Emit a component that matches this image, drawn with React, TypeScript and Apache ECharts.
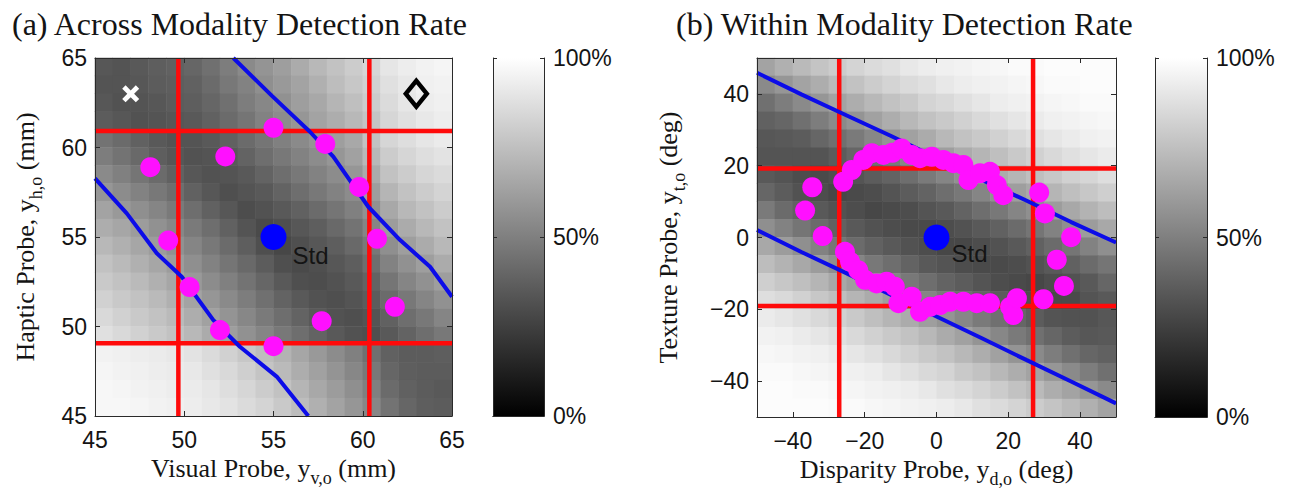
import React, { useEffect, useRef } from "react";
import * as echarts from "echarts";

const SANS = "'Liberation Sans', Arial, Helvetica, sans-serif";
const SERIF = "'Liberation Serif', 'Times New Roman', Times, serif";
const INK = "#141414";
const AXIS = "#2a2a2a";

// ---------- texts ----------
const titleA = "(a) Across Modality Detection Rate";
const titleB = "(b) Within Modality Detection Rate";
const stdLabel = "Std";

// ---------- ticks ----------
const aRange = [45, 65];
const bRange = [-50, 50];
const aTicks = [45, 50, 55, 60, 65];
const bTicks = [-40, -20, 0, 20, 40];
const colorbarRange = [0, 100];
const colorbarTop = [100];

// ---------- panel (a) heat map: cell centres (mm) and detection rate (%) rows, top (64.5) to bottom (45.5) ----------
const aCellX = [45.5, 46.5, 47.5, 48.5, 49.5, 50.5, 51.5, 52.5, 53.5, 54.5, 55.5, 56.5, 57.5, 58.5, 59.5, 60.5, 61.5, 62.5, 63.5, 64.5];
const aCellY = [45.5, 46.5, 47.5, 48.5, 49.5, 50.5, 51.5, 52.5, 53.5, 54.5, 55.5, 56.5, 57.5, 58.5, 59.5, 60.5, 61.5, 62.5, 63.5, 64.5];
const aRateRows = [
  [34, 33, 35, 37, 38, 40, 44, 49, 54, 58, 62, 67, 72, 76, 80, 84, 90, 93, 95, 96],
  [33, 33, 34, 36, 37, 38, 42, 47, 51, 56, 60, 64, 69, 74, 78, 82, 88, 91, 94, 95],
  [34, 32, 33, 34, 36, 37, 40, 44, 49, 53, 57, 62, 66, 71, 75, 80, 86, 90, 93, 94],
  [36, 34, 32, 33, 34, 35, 38, 42, 46, 51, 55, 59, 64, 68, 72, 77, 84, 88, 91, 93],
  [45, 42, 38, 35, 33, 33, 35, 38, 42, 46, 50, 54, 58, 62, 66, 76, 84, 87, 90, 92],
  [49, 45, 41, 37, 34, 32, 33, 35, 39, 43, 47, 51, 55, 59, 63, 72, 80, 84, 87, 89],
  [54, 50, 46, 42, 38, 34, 32, 33, 35, 39, 43, 47, 51, 55, 59, 67, 76, 80, 84, 86],
  [59, 55, 51, 47, 43, 38, 34, 31, 33, 35, 39, 43, 47, 51, 55, 62, 71, 76, 80, 83],
  [64, 60, 56, 52, 48, 43, 38, 34, 30, 32, 35, 38, 42, 46, 50, 57, 66, 72, 76, 80],
  [68, 65, 61, 57, 53, 48, 43, 38, 33, 29, 31, 34, 37, 41, 45, 52, 61, 67, 72, 76],
  [72, 69, 65, 61, 57, 52, 47, 42, 37, 31, 28, 31, 34, 37, 41, 47, 56, 62, 67, 72],
  [76, 73, 69, 65, 61, 56, 51, 46, 41, 36, 31, 29, 31, 34, 37, 43, 51, 57, 62, 67],
  [79, 76, 73, 69, 65, 60, 55, 50, 45, 40, 35, 31, 30, 32, 35, 39, 46, 52, 57, 62],
  [82, 79, 76, 73, 69, 64, 59, 54, 49, 44, 39, 35, 32, 31, 33, 36, 42, 47, 52, 57],
  [85, 82, 79, 76, 73, 68, 63, 58, 53, 48, 43, 39, 35, 32, 31, 33, 38, 43, 47, 52],
  [88, 85, 82, 79, 76, 72, 67, 62, 57, 52, 47, 43, 39, 35, 32, 31, 35, 39, 43, 47],
  [95, 94, 93, 92, 91, 89, 86, 82, 78, 74, 70, 65, 60, 55, 50, 44, 38, 36, 36, 37],
  [96, 95, 94, 93, 92, 91, 88, 85, 81, 77, 73, 68, 63, 58, 53, 47, 40, 37, 36, 36],
  [97, 96, 95, 94, 93, 92, 90, 87, 84, 80, 76, 71, 66, 61, 56, 50, 42, 38, 36, 35],
  [97, 97, 96, 95, 94, 93, 91, 89, 86, 83, 79, 74, 69, 64, 59, 53, 45, 40, 37, 36],
];

// ---------- panel (a) overlays ----------
const aRedVertical = [49.67, 60.37];
const aRedHorizontal = [49.06, 60.92];
const aBlueUpper = [[52.75, 65], [54.9, 62.9], [57.04, 60.88], [58.35, 59.49], [60.31, 56.69], [62.09, 54.83], [63.77, 53.34], [65, 51.66]];
const aBlueLower = [[45, 58.28], [46.78, 56.32], [48.46, 54.09], [49.86, 52.78], [51.63, 50.36], [53.12, 48.87], [55.18, 47.2], [56.95, 45]];
const aProbeX = [55.0, 57.9, 52.3, 48.1, 59.8, 49.1, 60.8, 50.3, 61.8, 57.7, 52.0, 55.0];
const aProbeY = [61.1, 60.2, 59.5, 58.9, 57.8, 54.8, 54.9, 52.2, 51.1, 50.3, 49.8, 48.9];
const aStd = [[55, 55]];
const aCross = [[47, 63]];
const aDiamond = [[63, 63]];

// ---------- panel (b) heat map ----------
const bCellX = [-47.5, -42.5, -37.5, -32.5, -27.5, -22.5, -17.5, -12.5, -7.5, -2.5, 2.5, 7.5, 12.5, 17.5, 22.5, 27.5, 32.5, 37.5, 42.5, 47.5];
const bCellY = [-47.5, -42.5, -37.5, -32.5, -27.5, -22.5, -17.5, -12.5, -7.5, -2.5, 2.5, 7.5, 12.5, 17.5, 22.5, 27.5, 32.5, 37.5, 42.5, 47.5];
const bRateRows = [
  [64, 69, 73, 77, 80, 83, 86, 88, 91, 93, 94, 95, 96, 97, 98, 98, 99, 99, 99, 99],
  [54, 59, 64, 68, 73, 76, 80, 83, 86, 88, 91, 93, 94, 95, 96, 97, 98, 98, 99, 99],
  [44, 49, 54, 59, 64, 68, 72, 76, 79, 83, 85, 88, 90, 93, 94, 95, 96, 97, 98, 98],
  [38, 40, 44, 49, 54, 58, 63, 68, 72, 76, 79, 82, 85, 88, 90, 92, 94, 95, 96, 97],
  [34, 35, 36, 40, 44, 48, 53, 58, 63, 67, 72, 76, 79, 82, 85, 88, 90, 92, 94, 95],
  [33, 33, 33, 33, 36, 40, 44, 48, 53, 58, 62, 67, 71, 75, 79, 82, 85, 88, 90, 92],
  [35, 33, 30, 29, 31, 33, 36, 39, 43, 48, 52, 57, 62, 67, 71, 75, 78, 82, 84, 87],
  [40, 36, 32, 30, 28, 29, 30, 33, 36, 39, 43, 47, 52, 57, 62, 66, 71, 75, 78, 81],
  [48, 42, 38, 35, 32, 30, 28, 29, 30, 33, 35, 39, 43, 47, 52, 56, 61, 66, 70, 74],
  [56, 51, 46, 42, 38, 35, 32, 30, 29, 29, 30, 32, 35, 38, 42, 46, 51, 56, 61, 66],
  [66, 61, 56, 51, 46, 42, 38, 35, 32, 30, 28, 28, 30, 32, 35, 38, 42, 46, 51, 56],
  [74, 70, 66, 61, 56, 52, 47, 43, 39, 35, 33, 30, 29, 29, 30, 32, 35, 38, 42, 46],
  [81, 78, 75, 71, 66, 62, 57, 52, 47, 43, 39, 36, 33, 30, 29, 28, 30, 32, 35, 40],
  [87, 85, 82, 78, 75, 71, 67, 62, 57, 52, 48, 43, 39, 36, 33, 31, 29, 29, 33, 35],
  [92, 90, 88, 85, 82, 79, 75, 71, 67, 62, 58, 53, 48, 44, 40, 36, 33, 32, 32, 34],
  [95, 94, 92, 90, 88, 85, 82, 79, 76, 72, 67, 63, 58, 53, 48, 44, 40, 36, 34, 35],
  [97, 96, 95, 94, 92, 90, 88, 85, 82, 79, 76, 72, 68, 63, 58, 54, 49, 44, 40, 38],
  [98, 98, 97, 96, 95, 94, 93, 90, 88, 85, 83, 79, 76, 72, 68, 64, 59, 54, 49, 44],
  [99, 99, 98, 98, 97, 96, 95, 94, 93, 91, 88, 86, 83, 80, 76, 73, 68, 64, 59, 54],
  [99, 99, 99, 99, 98, 98, 97, 96, 95, 94, 93, 91, 88, 86, 83, 80, 77, 73, 69, 64],
];

// ---------- panel (b) overlays ----------
const bRedVertical = [-27.1, 26.9];
const bRedHorizontal = [19.2, -19.1];
const bBlueUpper = [[-50, 45.9], [-37.5, 39.8], [-25, 34.0], [-12.5, 28.2], [0, 22.2], [12.5, 16.1], [25, 10.3], [37.5, 4.3], [50, -1.4]];
const bBlueLower = [[-50, 2.1], [-37.5, -4.1], [-25, -10.0], [-12.5, -16.1], [0, -22.0], [12.5, -28.0], [25, -34.1], [37.5, -40.1], [50, -46.2]];
const bProbeX = [
  -34.6, -36.6, -31.7,
  -26.0, -23.6, -20.4, -18.0, -14.8, -12.3, -9.7, -6.9, -4.6, -1.3, 1.9, 4.7, 7.5, 8.9, 12.1, 14.9, 16.8, 18.6,
  28.6, 30.2, 37.5, 33.5, 35.5, 29.8,
  -25.5, -24.1, -21.8, -19.9, -16.7, -13.9, -11.6, -10.6, -6.9, -4.6, -1.8, 1.0, 3.8, 7.5, 11.2, 14.9, 20.5, 21.4, 22.4,
];
const bProbeY = [
  14.0, 7.5, 0.4,
  15.5, 18.8, 21.6, 23.5, 23.0, 23.6, 24.8, 23.0, 22.1, 22.5, 21.6, 20.7, 20.2, 16.0, 17.9, 18.3, 14.6, 11.8,
  12.5, 6.7, 0.1, -6.2, -13.5, -17.2,
  -4.0, -6.7, -9.1, -11.8, -12.8, -12.3, -13.7, -18.3, -16.5, -20.7, -19.3, -18.8, -17.9, -17.9, -18.3, -18.3, -19.3, -21.6, -16.9,
];
const bStd = [[0, 0]];

// ---------- helpers ----------
const fmt = (v: number) => (v < 0 ? "\u2212" + Math.abs(v) : String(v));

const heatData = (rows: number[][]) => {
  const out: number[][] = [];
  const n = rows.length;
  rows.forEach((row, r) => row.forEach((v, i) => out.push([i, n - 1 - r, v])));
  return out;
};

const zip = (xs: number[], ys: number[]) => xs.map((x, i) => [x, ys[i]]);

const nameRichX = {
  n: { fontFamily: SERIF, fontSize: 26, color: INK },
  s: { fontFamily: SERIF, fontSize: 18, color: INK, padding: [18, 0, 0, 0] },
};
const nameRichY = {
  n: { fontFamily: SERIF, fontSize: 26, color: INK },
  s: { fontFamily: SERIF, fontSize: 18, color: INK, padding: [22, 0, 0, 0] },
};

function valueAxis(gridIndex: number, position: string, range: number[], ticks: number[], labels: boolean, extra: any = {}) {
  return {
    type: "value",
    gridIndex,
    position,
    min: range[0],
    max: range[1],
    z: 6,
    axisLine: { show: true, onZero: false, lineStyle: { color: AXIS, width: 1 } },
    axisTick: { show: true, inside: true, length: 5, customValues: ticks, lineStyle: { color: AXIS, width: 1 } },
    axisLabel: {
      show: labels,
      customValues: ticks,
      formatter: fmt,
      fontFamily: SANS,
      fontSize: 23,
      color: INK,
      margin: position === "bottom" ? 12 : 8,
    },
    splitLine: { show: false },
    ...extra,
  };
}

const catAxis = (gridIndex: number, data: number[]) => ({
  type: "category",
  gridIndex,
  data: data.map(String),
  show: false,
});

const cbCatAxis = (gridIndex: number, position: string) => ({
  type: "category",
  gridIndex,
  position,
  data: ["gray"],
  z: 6,
  axisLine: { show: true, lineStyle: { color: AXIS, width: 1 } },
  axisTick: { show: false },
  axisLabel: { show: false },
});

const cbValueAxis = (gridIndex: number, position: string, labels: boolean) => ({
  type: "value",
  gridIndex,
  position,
  min: colorbarRange[0],
  max: colorbarRange[1],
  interval: 50,
  z: 6,
  axisLine: { show: true, lineStyle: { color: AXIS, width: 1 } },
  axisTick: { show: true, inside: true, length: 4, lineStyle: { color: AXIS } },
  axisLabel: { show: labels, formatter: "{value}%", fontFamily: SANS, fontSize: 23, color: INK, margin: 9 },
  splitLine: { show: false },
});

const lineSeries = (xAxisIndex: number, yAxisIndex: number, data: number[][], color: string, width: number) => ({
  type: "line",
  xAxisIndex,
  yAxisIndex,
  data,
  showSymbol: false,
  symbol: "none",
  silent: true,
  lineStyle: { color, width, opacity: 1 },
  z: 3,
});

const RED = "#ff0a0a";
const BLUE = "#0c0ce8";
const MAGENTA = "#ff10ff";

const cbGradient = () =>
  new echarts.graphic.LinearGradient(0, 0, 0, 1, [
    { offset: 0, color: "#ffffff" },
    { offset: 1, color: "#000000" },
  ]);

const gridBase = { outerBoundsMode: "none", containLabel: false };

function buildOption() {
  return {
    animation: false,
    backgroundColor: "#ffffff",
    title: [
      { text: titleA, left: 12, top: 8, padding: 0, textStyle: { fontFamily: SERIF, fontSize: 32, fontWeight: "normal", color: INK } },
      { text: titleB, left: 676, top: 8, padding: 0, textStyle: { fontFamily: SERIF, fontSize: 32, fontWeight: "normal", color: INK } },
    ],
    grid: [
      { ...gridBase, left: 95, top: 58, width: 357, height: 358 },
      { ...gridBase, left: 493, top: 58, width: 51, height: 358 },
      { ...gridBase, left: 757, top: 58, width: 359, height: 359 },
      { ...gridBase, left: 1155, top: 58, width: 52, height: 359 },
    ],
    visualMap: {
      type: "continuous",
      show: false,
      min: colorbarRange[0],
      max: colorbarRange[1],
      dimension: 2,
      seriesIndex: [0, 1],
      inRange: { color: ["#000000", "#ffffff"] },
    },
    xAxis: [
      valueAxis(0, "bottom", aRange, aTicks, true, {
        name: "{n|Visual Probe, y}{s|v,o}{n| (mm)}",
        nameLocation: "middle",
        nameGap: 28,
        nameTextStyle: { rich: nameRichX },
      }),
      valueAxis(0, "top", aRange, aTicks, false),
      catAxis(0, aCellX),
      cbCatAxis(1, "bottom"),
      cbCatAxis(1, "top"),
      valueAxis(2, "bottom", bRange, bTicks, true, {
        name: "{n|Disparity Probe, y}{s|d,o}{n| (deg)}",
        nameLocation: "middle",
        nameGap: 28,
        nameTextStyle: { rich: nameRichX },
      }),
      valueAxis(2, "top", bRange, bTicks, false),
      catAxis(2, bCellX),
      cbCatAxis(3, "bottom"),
      cbCatAxis(3, "top"),
    ],
    yAxis: [
      valueAxis(0, "left", aRange, aTicks, true, {
        name: "{n|Haptic Probe, y}{s|h,o}{n| (mm)}",
        nameLocation: "middle",
        nameGap: 50,
        nameTextStyle: { rich: nameRichY },
      }),
      valueAxis(0, "right", aRange, aTicks, false),
      catAxis(0, aCellY),
      cbValueAxis(1, "right", true),
      cbValueAxis(1, "left", false),
      valueAxis(2, "left", bRange, bTicks, true, {
        name: "{n|Texture Probe, y}{s|t,o}{n| (deg)}",
        nameLocation: "middle",
        nameGap: 69,
        nameTextStyle: { rich: nameRichY },
      }),
      valueAxis(2, "right", bRange, bTicks, false),
      catAxis(2, bCellY),
      cbValueAxis(3, "right", true),
      cbValueAxis(3, "left", false),
    ],
    series: [
      { type: "heatmap", xAxisIndex: 2, yAxisIndex: 2, data: heatData(aRateRows), silent: true, z: 1, emphasis: { disabled: true } },
      { type: "heatmap", xAxisIndex: 7, yAxisIndex: 7, data: heatData(bRateRows), silent: true, z: 1, emphasis: { disabled: true } },
      { type: "bar", xAxisIndex: 3, yAxisIndex: 3, data: colorbarTop, barWidth: "100%", silent: true, itemStyle: { color: cbGradient() } },
      { type: "bar", xAxisIndex: 8, yAxisIndex: 8, data: colorbarTop, barWidth: "100%", silent: true, itemStyle: { color: cbGradient() } },
      // panel a overlays
      ...aRedVertical.map((x) => lineSeries(0, 0, [[x, aRange[0]], [x, aRange[1]]], RED, 4.5)),
      ...aRedHorizontal.map((y) => lineSeries(0, 0, [[aRange[0], y], [aRange[1], y]], RED, 4.5)),
      lineSeries(0, 0, aBlueUpper, BLUE, 4),
      lineSeries(0, 0, aBlueLower, BLUE, 4),
      {
        type: "scatter", xAxisIndex: 0, yAxisIndex: 0, data: zip(aProbeX, aProbeY),
        symbolSize: 20, itemStyle: { color: MAGENTA, opacity: 1 }, silent: true, z: 4,
      },
      {
        type: "scatter", xAxisIndex: 0, yAxisIndex: 0, data: aStd, symbolSize: 26,
        itemStyle: { color: "#0000ff", opacity: 1 }, silent: true, z: 4,
        label: { show: true, formatter: stdLabel, position: [32, 19], fontFamily: SANS, fontSize: 24, color: INK },
      },
      {
        type: "scatter", xAxisIndex: 0, yAxisIndex: 0, data: aCross, symbolSize: 17,
        symbol: "path://M0,2 L2,0 L5,3 L8,0 L10,2 L7,5 L10,8 L8,10 L5,7 L2,10 L0,8 L3,5 Z",
        itemStyle: { color: "#ffffff", opacity: 1 }, silent: true, z: 4,
      },
      {
        type: "scatter", xAxisIndex: 0, yAxisIndex: 0, data: aDiamond, symbol: "diamond", symbolSize: [21, 26],
        itemStyle: { color: "rgba(255,255,255,0)", borderColor: "#000000", borderWidth: 4.5, opacity: 1 }, silent: true, z: 4,
      },
      // panel b overlays
      ...bRedVertical.map((x) => lineSeries(5, 5, [[x, bRange[0]], [x, bRange[1]]], RED, 4.5)),
      ...bRedHorizontal.map((y) => lineSeries(5, 5, [[bRange[0], y], [bRange[1], y]], RED, 4.5)),
      lineSeries(5, 5, bBlueUpper, BLUE, 4),
      lineSeries(5, 5, bBlueLower, BLUE, 4),
      {
        type: "scatter", xAxisIndex: 5, yAxisIndex: 5, data: zip(bProbeX, bProbeY),
        symbolSize: 20, itemStyle: { color: MAGENTA, opacity: 1 }, silent: true, z: 4,
      },
      {
        type: "scatter", xAxisIndex: 5, yAxisIndex: 5, data: bStd, symbolSize: 26,
        itemStyle: { color: "#0000ff", opacity: 1 }, silent: true, z: 4,
        label: { show: true, formatter: stdLabel, position: [28, 17], fontFamily: SANS, fontSize: 24, color: INK },
      },
    ],
  };
}

export default function App() {
  const ref = useRef<HTMLDivElement | null>(null);
  useEffect(() => {
    if (!ref.current) return;
    const chart = echarts.init(ref.current, null, { renderer: "svg" });
    chart.setOption(buildOption() as any);
    return () => chart.dispose();
  }, []);
  return (
    <div
      ref={ref}
      style={{ position: "fixed", left: 0, top: 0, width: 1290, height: 488, background: "#ffffff" }}
    />
  );
}
